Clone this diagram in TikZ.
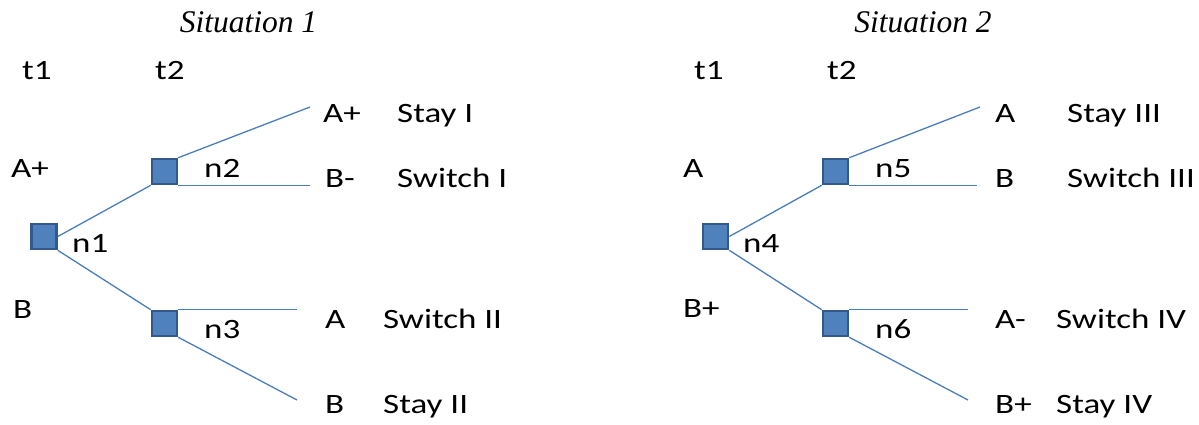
\documentclass[tikz,border=0pt]{standalone}
\usepackage{fontspec}
\newfontfamily\labfont{Carlito}[FakeStretch=1.25]
\newfontfamily\titfont{Liberation Serif}
\definecolor{boxfill}{HTML}{4F81BD}
\definecolor{boxline}{HTML}{345889}
\definecolor{edgecol}{HTML}{4A7EBB}
\begin{document}
\begin{tikzpicture}[x=1pt,y=-1pt,
 dnode/.style={rectangle, fill=boxfill, draw=boxline, line width=2.6pt, minimum size=25pt, inner sep=0pt},
 lab/.style={anchor=base west, inner sep=0pt, font=\labfont\fontsize{28}{30}\selectfont},
 ttl/.style={anchor=base, inner sep=0pt, font=\titfont\itshape\fontsize{31.5}{34}\selectfont},
 br/.style={draw=edgecol, line width=1.3pt}]
\useasboundingbox (0,0) rectangle (1199,424);
% ---------- Situation 1 ----------
\node[ttl] (title1) at (248.5,32) {Situation 1};
\node[lab] (t1a) at (22,79) {t1};
\node[lab] (t2a) at (155,79) {t2};
\node[lab] (s1Ap) at (11,177) {A+};
\node[lab] (s1B) at (13,318) {B};
\coordinate (e1) at (310,107);
\coordinate (e2) at (310,183);
\coordinate (e3) at (297,313);
\coordinate (e4) at (297,400);
\node[lab] (ln1) at (72,252) {n1};
\node[lab] (ln2) at (204,177) {n2};
\node[lab] (ln3) at (204,338) {n3};
\node[lab] (r1a) at (323,122) {A+};
\node[lab] (r1b) at (397,122) {Stay I};
\node[lab] (r2a) at (325,187) {B-};
\node[lab] (r2b) at (397,187) {Switch I};
\node[lab] (r3a) at (325,328) {A};
\node[lab] (r3b) at (383,328) {Switch II};
\node[lab] (r4a) at (325,413) {B};
\node[lab] (r4b) at (383,413) {Stay II};
% ---------- Situation 2 ----------
\node[ttl] (title2) at (923,32) {Situation 2};
\node[lab] (t1b) at (694,79) {t1};
\node[lab] (t2b) at (827,79) {t2};
\node[lab] (s2A) at (683,177) {A};
\node[lab] (s2Bp) at (683,317) {B+};
\coordinate (f1) at (980,107);
\coordinate (f2) at (977,183);
\coordinate (f3) at (968,313);
\coordinate (f4) at (968,400);
\node[lab] (ln4) at (743,252) {n4};
\node[lab] (ln5) at (875,177) {n5};
\node[lab] (ln6) at (875,338) {n6};
\node[lab] (q1a) at (995,122) {A};
\node[lab] (q1b) at (1067,122) {Stay III};
\node[lab] (q2a) at (995,187) {B};
\node[lab] (q2b) at (1067,187) {Switch III};
\node[lab] (q3a) at (995,328) {A-};
\node[lab] (q3b) at (1056,328) {Switch IV};
\node[lab] (q4a) at (995,413) {B+};
\node[lab] (q4b) at (1056,413) {Stay IV};
% ---------- decision squares ----------
\node[dnode] (n1) at (44,236.5) {};
\node[dnode] (n2) at (164.5,171.5) {};
\node[dnode] (n3) at (164.5,323.5) {};
\node[dnode] (n4) at (715.5,236.5) {};
\node[dnode] (n5) at (835.5,171.5) {};
\node[dnode] (n6) at (835.5,323.5) {};
% ---------- branches ----------
\draw[br] (n1.east) -- (n2.south west);
\draw[br] (n1.south east) -- (n3.north west);
\draw[br] (n2.north east) -- (e1);
\draw[br] (n2.south east) -- (n2.south east -| e2);
\draw[br] (n3.north east) -- (n3.north east -| e3);
\draw[br] (n3.south east) -- (e4);
\draw[br] (n4.east) -- (n5.south west);
\draw[br] (n4.south east) -- (n6.north west);
\draw[br] (n5.north east) -- (f1);
\draw[br] (n5.south east) -- (n5.south east -| f2);
\draw[br] (n6.north east) -- (n6.north east -| f3);
\draw[br] (n6.south east) -- (f4);
\end{tikzpicture}
\end{document}
